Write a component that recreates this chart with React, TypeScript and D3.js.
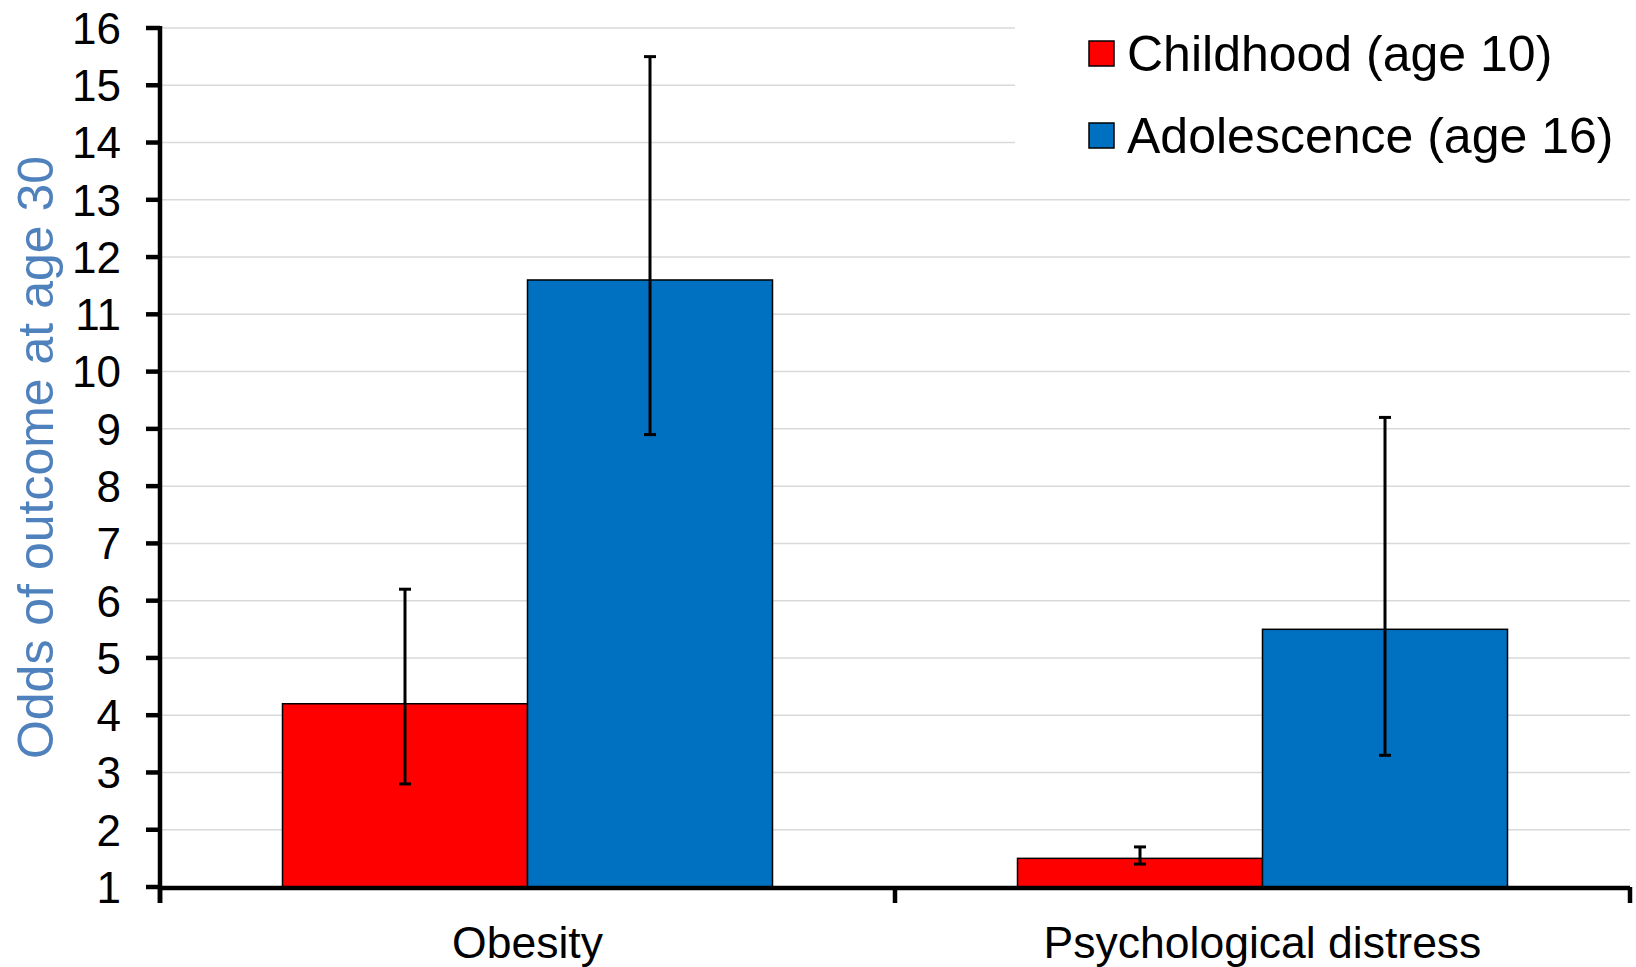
import React from "react";
import * as d3 from "d3";

const categories = ["Obesity", "Psychological distress"];
const seriesNames = ["Childhood (age 10)", "Adolescence (age 16)"];
const seriesColors = ["#ff0000", "#0070c0"];
const childhoodValues = [4.2, 1.5];
const childhoodLow = [2.8, 1.4];
const childhoodHigh = [6.2, 1.7];
const adolescenceValues = [11.6, 5.5];
const adolescenceLow = [8.9, 3.3];
const adolescenceHigh = [15.5, 9.2];
const yTicks = [1, 2, 3, 4, 5, 6, 7, 8, 9, 10, 11, 12, 13, 14, 15, 16];
const yTitle = "Odds of outcome at age 30";

const W = 1636;
const H = 967;
const FONT = "'Liberation Sans', Arial, Helvetica, sans-serif";

export default function App() {
  const left = 160;
  const right = 1630;
  const top = 28;
  const bottom = 887;

  const x0 = d3.scaleBand<string>().domain(categories).range([left, right]).padding(0);
  const x1 = d3
    .scaleBand<string>()
    .domain(seriesNames)
    .range([0, x0.bandwidth()])
    .paddingInner(0)
    .paddingOuter(0.5);
  const y = d3.scaleLinear().domain([1, 16]).range([bottom, top]);

  const series = [
    { name: seriesNames[0], color: seriesColors[0], values: childhoodValues, lo: childhoodLow, hi: childhoodHigh },
    { name: seriesNames[1], color: seriesColors[1], values: adolescenceValues, lo: adolescenceLow, hi: adolescenceHigh },
  ];

  const capW = 12;
  const xTickPos = [left, ...categories.map((c) => (x0(c) as number) + x0.bandwidth())];

  return (
    <svg
      width={W}
      height={H}
      style={{ position: "absolute", left: 0, top: 0, background: "#fff" }}
      fontFamily={FONT}
    >
      <rect x={0} y={0} width={W} height={H} fill="#fff" />
      {/* gridlines */}
      {yTicks.slice(1).map((t) => (
        <line key={"g" + t} x1={left} x2={right} y1={y(t)} y2={y(t)} stroke="#d9d9d9" strokeWidth={1.5} />
      ))}
      {/* legend background */}
      <rect x={1015} y={0} width={W - 1015} height={178} fill="#fff" />
      {/* bars */}
      {series.map((s) =>
        categories.map((c, i) => {
          const bx = (x0(c) as number) + (x1(s.name) as number);
          return (
            <rect
              key={s.name + c}
              x={bx}
              y={y(s.values[i])}
              width={x1.bandwidth()}
              height={y(1) - y(s.values[i])}
              fill={s.color}
              stroke="#000"
              strokeWidth={1.5}
            />
          );
        })
      )}
      {/* error bars */}
      {series.map((s) =>
        categories.map((c, i) => {
          const cx = (x0(c) as number) + (x1(s.name) as number) + x1.bandwidth() / 2;
          return (
            <g key={"e" + s.name + c} stroke="#000" strokeWidth={3}>
              <line x1={cx} x2={cx} y1={y(s.hi[i])} y2={y(s.lo[i])} />
              <line x1={cx - capW / 2} x2={cx + capW / 2} y1={y(s.hi[i])} y2={y(s.hi[i])} />
              <line x1={cx - capW / 2} x2={cx + capW / 2} y1={y(s.lo[i])} y2={y(s.lo[i])} />
            </g>
          );
        })
      )}
      {/* y axis */}
      <line x1={left} x2={left} y1={top - 2} y2={bottom + 16} stroke="#000" strokeWidth={4.5} />
      {yTicks.map((t) => (
        <g key={"t" + t}>
          <line x1={left - 14} x2={left} y1={y(t)} y2={y(t)} stroke="#000" strokeWidth={4.5} />
          <text
            x={121}
            y={y(t)}
            dy="0.36em"
            textAnchor="end"
            fontSize={44}
            fill="#000"
          >
            {t}
          </text>
        </g>
      ))}
      {/* x axis */}
      <line x1={left} x2={right} y1={bottom + 1} y2={bottom + 1} stroke="#000" strokeWidth={4.5} />
      {xTickPos.map((xp, i) => (
        <line key={"xt" + i} x1={xp} x2={xp} y1={bottom} y2={bottom + 16} stroke="#000" strokeWidth={4.5} />
      ))}
      {categories.map((c) => (
        <text
          key={"c" + c}
          x={(x0(c) as number) + x0.bandwidth() / 2}
          y={958}
          textAnchor="middle"
          fontSize={44.5}
          fill="#000"
        >
          {c}
        </text>
      ))}
      {/* y title */}
      <text
        transform={`translate(53, ${(top + bottom) / 2}) rotate(-90)`}
        textAnchor="middle"
        fontSize={50}
        fill="#4f81bd"
      >
        {yTitle}
      </text>
      {/* legend */}
      {series.map((s, i) => (
        <g key={"l" + s.name} transform={`translate(1089, ${41 + i * 82})`}>
          <rect x={0} y={0} width={25} height={25} fill={s.color} stroke="#000" strokeWidth={1.5} />
          <text x={38} y={30} fontSize={50} fill="#000">
            {s.name}
          </text>
        </g>
      ))}
    </svg>
  );
}
